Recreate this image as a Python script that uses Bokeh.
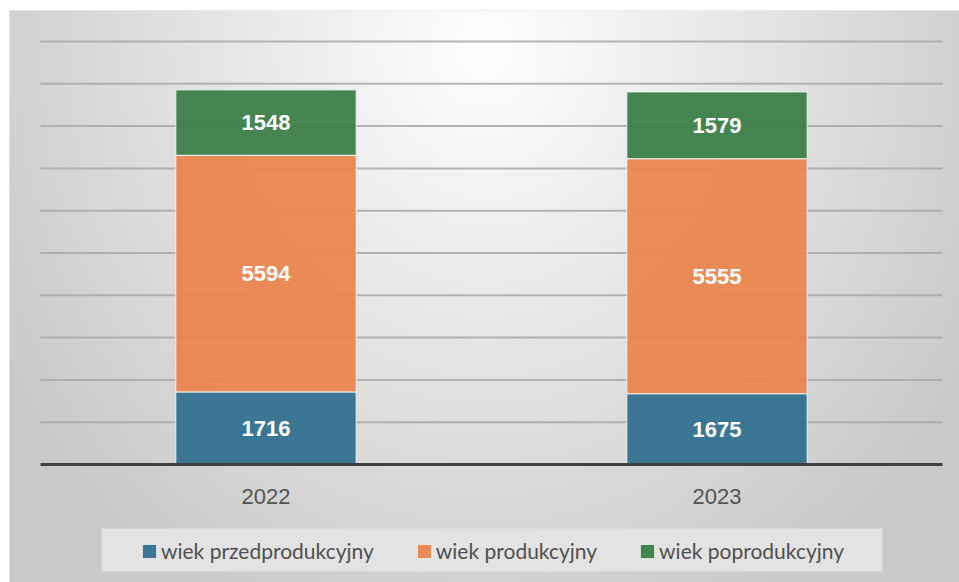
import numpy as np
from bokeh.plotting import figure
from bokeh.models import ColumnDataSource, Range1d, Legend, LegendItem, BoxAnnotation
from bokeh.core.properties import value
from bokeh.embed import file_html
from bokeh.resources import INLINE

# ---- data ----
years = ["2022", "2023"]
przed = [1716, 1675]
prod = [5594, 5555]
popro = [1548, 1579]
series_names = ["wiek przedprodukcyjny", "wiek produkcyjny", "wiek poprodukcyjny"]
series_keys = ["przed", "prod", "popro"]
colors = ["#2E6F8E", "#EB834B", "#387D46"]
y_ticks = list(range(0, 10001, 1000))

# ---- layout constants (pixels) ----
W, H = 959, 582
FRAME_L, FRAME_T = 9, 10          # page coords of frame
FRAME_W, FRAME_H = W - FRAME_L, H - FRAME_T
AX_L, AX_R = 40, 942              # plot area page x
AX_BASE, AX_TOP = 464, 41         # page y of 0 and 10000

ppx = (AX_R - AX_L) / len(years)
ppy = (AX_BASE - AX_TOP) / 10000.0
x0 = -(AX_L - FRAME_L) / ppx
x1 = len(years) + (FRAME_L + FRAME_W - AX_R) / ppx
y1 = (AX_BASE - FRAME_T) / ppy
y0 = -(FRAME_T + FRAME_H - AX_BASE) / ppy

p = figure(width=W, height=H, output_backend="svg", toolbar_location=None,
           x_range=Range1d(x0, x1), y_range=Range1d(y0, y1),
           min_border_left=FRAME_L, min_border_top=FRAME_T, min_border_right=0, min_border_bottom=0)
p.axis.visible = False
p.grid.visible = False
p.outline_line_color = None
p.border_fill_color = "white"
p.background_fill_color = "#dcdcdc"

# background radial gradient
hh, ww = FRAME_H, FRAME_W
yy, xx = np.mgrid[0:hh, 0:ww]
r = np.sqrt(((xx - 475) / 560.0) ** 2 + ((yy - 35) / 640.0) ** 2)
g = (255 - 54 * np.clip(r, 0, 1)).astype(np.uint32)
img = (255 << 24) | (g << 16) | (g << 8) | g
img = np.flipud(img).astype(np.uint32)
p.image_rgba(image=[img], x=x0, y=y0, dw=x1 - x0, dh=y1 - y0)

# gridlines
xs_cat = [i + 0.5 for i in range(len(years))]
grid_y = y_ticks[1:]
p.segment(x0=[0] * len(grid_y), x1=[len(years)] * len(grid_y), y0=grid_y, y1=grid_y,
          line_color="#a8a8a8", line_width=2, line_alpha=0.85)

# bars
src = ColumnDataSource(dict(x=xs_cat, przed=przed, prod=prod, popro=popro))
rends = p.vbar_stack(series_keys, x="x", width=0.4, source=src, color=colors,
                     fill_alpha=0.93, line_color="#f4f4f4", line_width=1.2, line_alpha=0.8)

# baseline
p.segment(x0=[0], x1=[len(years)], y0=[0], y1=[0], line_color="#404040", line_width=3)

# data labels
lx, ly, lt = [], [], []
for i in range(len(years)):
    bottom = 0
    for vals in (przed, prod, popro):
        v = vals[i]
        lx.append(xs_cat[i]); ly.append(bottom + v / 2); lt.append(str(v))
        bottom += v
p.text(x=lx, y=ly, text=lt, text_align="center", text_baseline="middle",
       text_color="white", text_font=value("Liberation Sans"), text_font_style="bold",
       text_font_size="22px")

# category labels
p.text(x=xs_cat, y=[-(496 - AX_BASE) / ppy] * len(years), text=years,
       text_align="center", text_baseline="middle", text_color="#555555",
       text_font=value("Liberation Sans"), text_font_size="22px")

# legend background
lb = BoxAnnotation(left=(101 - AX_L) / ppx, right=(882 - AX_L) / ppx,
                   top=-(528 - AX_BASE) / ppy, bottom=-(571 - AX_BASE) / ppy,
                   fill_color="#e3e3e3", fill_alpha=1, line_alpha=0)
p.add_layout(lb)

legend = Legend(items=[LegendItem(label=n, renderers=[r_]) for n, r_ in zip(series_names, rends)],
                orientation="horizontal", location=(126, 14),
                background_fill_alpha=0, border_line_alpha=0,
                label_text_font="Lato", label_text_font_size="21px",
                label_text_color="#505050", glyph_width=18, glyph_height=18,
                label_standoff=3, spacing=41, padding=5, margin=0)
p.add_layout(legend)

open("out.html", "w").write(file_html(p, INLINE))
